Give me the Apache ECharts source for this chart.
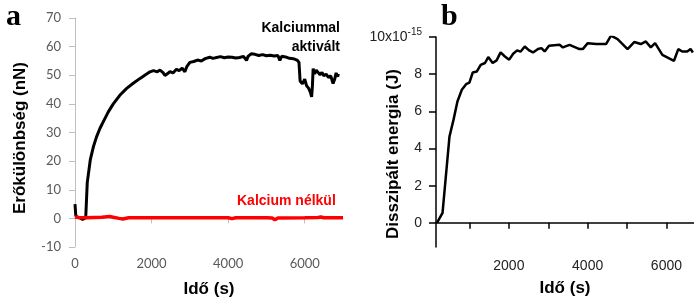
<!DOCTYPE html>
<html><head><meta charset="utf-8">
<script src="https://cdn.jsdelivr.net/npm/echarts@6/dist/echarts.min.js"></script>
<style>html,body{margin:0;padding:0;background:#fff}#c{width:694px;height:299px}</style>
</head><body><div id="c"></div>
<script>
// Panel a: force difference (nN) vs time (s)
var aTicksX = [0, 2000, 4000, 6000];
var calciumT = [0,20,60,120,200,280,300,320,360,400,480,560,650,740,870,1000,1170,1350,1520,1700,1870,1960,2050,2150,2220,2300,2350,2420,2480,2560,2650,2720,2800,2870,2920,3000,3100,3200,3300,3400,3520,3600,3700,3800,3900,4000,4100,4200,4300,4400,4480,4520,4600,4700,4800,4900,5000,5100,5200,5300,5350,5400,5500,5600,5700,5800,5850,5880,5940,6000,6050,6100,6150,6180,6200,6220,6260,6300,6350,6400,6450,6500,6560,6620,6680,6740,6780,6820,6860,6880];
var calciumV = [5.0,1.0,0.3,0.2,-0.4,0.2,0.5,12.5,16.5,20.5,25.0,28.4,31.4,33.8,37.2,40.0,43.0,45.4,47.2,48.9,50.4,51.2,51.6,51.2,51.8,50.9,49.9,50.6,51.3,50.8,52.1,51.6,52.5,51.2,53.0,54.5,54.8,55.3,55.0,55.8,56.3,55.9,56.2,56.5,56.1,56.4,56.3,56.0,56.2,56.6,55.2,56.6,57.5,57.3,56.9,57.2,56.8,57.0,56.7,56.9,55.2,56.6,56.4,55.9,55.8,55.3,54.5,48.0,47.0,48.6,46.3,45.5,44.0,42.4,46.0,52.3,50.5,51.8,51.0,50.2,51.0,49.8,50.4,49.2,49.8,47.1,48.5,50.8,49.5,50.5];
var noCalciumT = [0,100,300,500,700,900,1000,1150,1250,1400,2000,3000,4000,4100,4200,5000,5150,5220,5300,6000,6350,6420,6500,7000];
var noCalciumV = [0.5,0.3,0.2,0.3,0.4,0.7,0.4,0.0,-0.2,0.2,0.2,0.2,0.2,-0.1,0.2,0.2,0.1,-0.5,0.1,0.2,0.3,0.5,0.2,0.2];
// Panel b: dissipated energy (x10^-15 J) vs time (s)
var bTicksX = [1000, 2000, 3000, 4000, 5000, 6000];
var bLabelsX = [2000, 4000, 6000];
var bTicksY = [0, 2, 4, 6, 8, 10];
var energyT = [174,316,492,594,694,806,914,998,1083,1184,1285,1394,1477,1588,1689,1790,1899,2008,2109,2210,2295,2404,2513,2614,2740,2826,2909,3018,3288,3371,3540,3793,3876,4003,4215,4467,4593,4760,5013,5182,5351,5477,5603,5712,5897,6192,6301,6402,6528,6613,6672];
var energyV = [0,0.54,4.64,5.54,6.53,7.16,7.46,7.55,8.09,8.14,8.5,8.6,8.92,8.6,8.74,9.17,8.95,8.78,9.1,9.28,9.21,9.49,9.28,9.17,9.35,9.4,9.22,9.53,9.58,9.44,9.58,9.35,9.35,9.67,9.62,9.62,10.07,9.89,9.35,9.73,9.62,9.76,9.44,9.67,9.04,8.72,9.35,9.22,9.22,9.35,9.17];

function pairs(t, v) { return t.map(function (x, i) { return [x, v[i]]; }); }
function plain(v) { return String(v); }

var chart = echarts.init(document.getElementById('c'), null, {renderer: 'canvas'});
var grayAxis = {lineStyle: {color: '#bfbfbf', width: 1}};
var labA = {fontFamily: 'Lato', fontSize: 13, color: '#595959'};
var labB = {fontFamily: 'Liberation Sans', fontSize: 14, color: '#222'};
chart.setOption({
  animation: false,
  grid: [
    {left: 75, top: 18, right: 351, bottom: 52},
    {left: 436, top: 37, right: 0, bottom: 52}
  ],
  xAxis: [
    {gridIndex: 0, type: 'value', min: 0, max: 7000,
     axisLine: grayAxis, splitLine: {show: false},
     axisTick: {show: true, length: 5, customValues: aTicksX, lineStyle: {color: '#bfbfbf'}},
     axisLabel: Object.assign({margin: 10, customValues: aTicksX, formatter: plain}, labA)},
    {gridIndex: 1, type: 'value', min: 150, max: 6700,
     axisLine: {lineStyle: {color: '#000', width: 1.5}}, splitLine: {show: false},
     axisTick: {show: true, length: 6, customValues: bTicksX, lineStyle: {color: '#000', width: 1.5}},
     axisLabel: Object.assign({margin: 12, customValues: bLabelsX, formatter: plain}, labB)}
  ],
  yAxis: [
    {gridIndex: 0, type: 'value', min: -10, max: 70, interval: 10,
     axisLine: Object.assign({show: true}, grayAxis), splitLine: {show: false},
     axisTick: {show: true, length: 6, lineStyle: {color: '#bfbfbf'}},
     axisLabel: Object.assign({margin: 14, formatter: plain}, labA)},
    {gridIndex: 1, type: 'value', min: -1.3, max: 10,
     axisLine: {show: true, lineStyle: {color: '#000', width: 1.5}}, splitLine: {show: false},
     axisTick: {show: true, length: 7, customValues: bTicksY, lineStyle: {color: '#000', width: 1.5}},
     axisLabel: Object.assign({margin: 14, customValues: bTicksY,
       formatter: function (v) { return v === 10 ? '10x10{sup|-15}' : String(v); },
       rich: {sup: {fontFamily: 'Liberation Sans', fontSize: 10, color: '#222', padding: [0, 0, 9, 0]}}}, labB)}
  ],
  series: [
    {type: 'line', xAxisIndex: 0, yAxisIndex: 0, data: pairs(noCalciumT, noCalciumV), showSymbol: false,
     lineStyle: {color: '#ff0000', width: 3.5}, z: 2},
    {type: 'line', xAxisIndex: 0, yAxisIndex: 0, data: pairs(calciumT, calciumV), showSymbol: false,
     lineStyle: {color: '#000', width: 3}, z: 1},
    {type: 'line', xAxisIndex: 1, yAxisIndex: 1, data: pairs(energyT, energyV), showSymbol: false,
     lineStyle: {color: '#000', width: 2.5}}
  ],
  graphic: [
    {type: 'text', left: 6, top: 2, style: {text: 'a', font: 'bold 30px "Liberation Serif"', fill: '#000'}},
    {type: 'text', left: 441, top: 2, style: {text: 'b', font: 'bold 30px "Liberation Serif"', fill: '#000'}},
    {type: 'text', x: 340, y: 28, style: {text: 'Kalciummal', font: 'bold 14px "Liberation Sans"', fill: '#000', align: 'right', verticalAlign: 'middle'}},
    {type: 'text', x: 340, y: 47, style: {text: 'aktivált', font: 'bold 14px "Liberation Sans"', fill: '#000', align: 'right', verticalAlign: 'middle'}},
    {type: 'text', x: 237, y: 201, style: {text: 'Kalcium nélkül', font: 'bold 14px "Liberation Sans"', fill: '#ff0000', align: 'left', verticalAlign: 'middle'}},
    {type: 'text', x: 20, y: 138, rotation: Math.PI / 2, style: {text: 'Erőkülönbség (nN)', font: 'bold 17px "Liberation Sans"', fill: '#000', align: 'center', verticalAlign: 'middle'}},
    {type: 'text', x: 393, y: 154, rotation: Math.PI / 2, style: {text: 'Disszipált energia (J)', font: 'bold 17px "Liberation Sans"', fill: '#000', align: 'center', verticalAlign: 'middle'}},
    {type: 'text', x: 209, y: 289, style: {text: 'Idő (s)', font: 'bold 17px "Liberation Sans"', fill: '#000', align: 'center', verticalAlign: 'middle'}},
    {type: 'text', x: 565, y: 288, style: {text: 'Idő (s)', font: 'bold 17px "Liberation Sans"', fill: '#000', align: 'center', verticalAlign: 'middle'}}
  ]
});
</script></body></html>
